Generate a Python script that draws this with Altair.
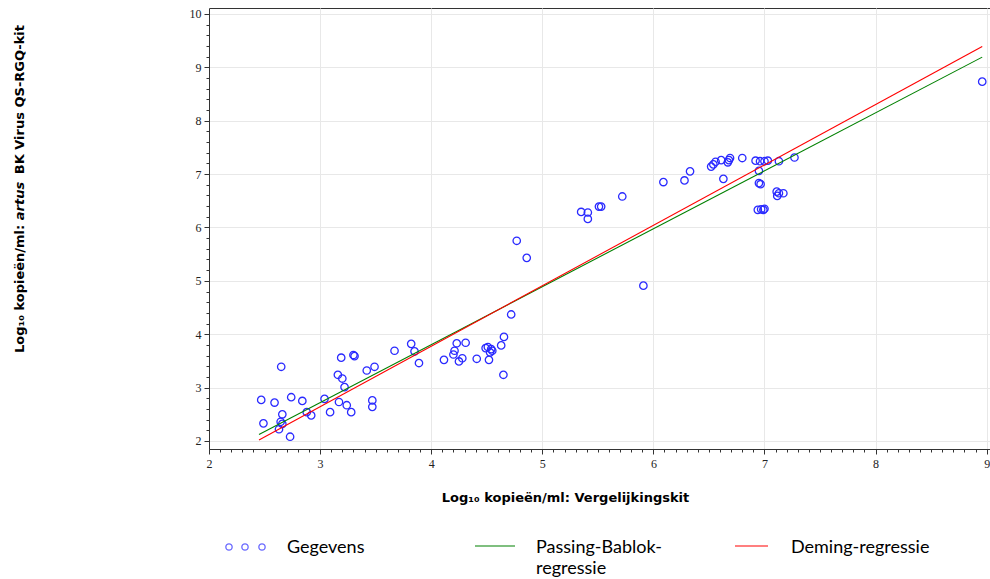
import altair as alt
import pandas as pd
import numpy as np

# ---- data ----
ref_x = [2.47, 2.49, 2.59, 2.65, 2.66, 2.645, 2.66, 2.63, 2.73, 2.74, 2.84, 2.88, 2.92,
         3.04, 3.09, 3.17, 3.24, 3.28, 3.22, 3.16, 3.20, 3.19, 3.30, 3.31, 3.42, 3.49,
         3.47, 3.47, 3.67, 3.82, 3.85, 3.89,
         4.115, 4.21, 4.20, 4.23, 4.25, 4.28, 4.31, 4.41, 4.49, 4.51, 4.54, 4.55, 4.53,
         4.52, 4.63, 4.655, 4.65, 4.72, 4.77, 4.86, 5.91,
         5.35, 5.41, 5.41, 5.51, 5.53, 5.72, 6.09, 6.28, 6.33, 6.52, 6.54, 6.56, 6.61,
         6.63, 6.67, 6.68, 6.69, 6.80, 6.92, 6.96, 7.00, 7.03, 6.95, 6.95, 6.965, 7.13,
         7.27, 7.11, 7.13, 7.17, 7.115, 6.94, 6.97, 7.00, 6.99, 8.96]
test_y = [2.77, 2.33, 2.72, 3.39, 2.50, 2.36, 2.32, 2.22, 2.08, 2.82, 2.75, 2.54, 2.48,
          2.79, 2.54, 2.73, 2.67, 2.54, 3.01, 3.24, 3.17, 3.56, 3.61, 3.59, 3.32, 3.39,
          2.76, 2.64, 3.69, 3.82, 3.68, 3.46,
          3.52, 3.69, 3.62, 3.83, 3.49, 3.55, 3.84, 3.54, 3.74, 3.76, 3.72, 3.69, 3.66,
          3.52, 3.79, 3.95, 3.24, 4.37, 5.75, 5.43, 4.91,
          6.29, 6.28, 6.16, 6.39, 6.39, 6.58, 6.85, 6.88, 7.05, 7.14, 7.18, 7.23, 7.26,
          6.91, 7.22, 7.26, 7.30, 7.30, 7.25, 7.24, 7.24, 7.25, 7.06, 6.83, 6.81, 7.24,
          7.31, 6.67, 6.64, 6.64, 6.59, 6.33, 6.34, 6.35, 6.33, 8.73]

line_x = [2.45, 8.96]
passing_bablok_y = [2.12, 9.19]
deming_y = [2.02, 9.39]

x_ticks = [round(v, 1) for v in np.arange(2.0, 9.01, 0.1)]
y_ticks = [round(v, 1) for v in np.arange(2.0, 10.01, 0.2)]

x_title = "Log₁₀ kopieën/ml: Vergelijkingskit"
# y title in three pieces: regular, italic, regular
y_title_parts = ["Log₁₀ kopieën/ml:", "artus", "BK Virus QS-RGQ-kit"]
legend_labels = ["Gegevens", "Passing-Bablok-\nregressie", "Deming-regressie"]

points = pd.DataFrame({"x": ref_x, "y": test_y})
lines = pd.DataFrame({
    "x": line_x * 2,
    "y": passing_bablok_y + deming_y,
    "method": ["Passing-Bablok"] * 2 + ["Deming"] * 2,
})

major = "abs(datum.value - round(datum.value)) < 0.001"
label_expr = f"{major} ? format(datum.value, 'd') : ''"

TICK_FONT = "Liberation Sans Narrow"
TITLE_FONT = "DejaVu Sans"
LEGEND_FONT = "Lato"

x_scale = alt.Scale(domain=[2, 9.03], nice=False, zero=False)
y_scale = alt.Scale(domain=[1.85, 10.11], nice=False, zero=False)

common_axis = dict(
    labelExpr=label_expr,
    labelOverlap=False,
    labelFlush=False,
    labelFont=TICK_FONT,
    labelFontSize=12,
    labelColor="#222",
    tickColor="#333",
    domainColor="#333",
    tickSize={"condition": {"test": major, "value": 5}, "value": 3},
    gridOpacity={"condition": {"test": major, "value": 1}, "value": 0},
    gridColor="#e8e8e8",
    titleFont=TITLE_FONT,
    titleFontSize=13,
    titleFontWeight="bold",
    titleColor="#000",
)

x_axis = alt.Axis(values=x_ticks, title=x_title, titleX=356, titleY=48,
                  titleBaseline="middle", titleAnchor="middle", labelPadding=4,
                  **common_axis)
y_axis = alt.Axis(values=y_ticks, title=None, labelPadding=3, **common_axis)

pts = alt.Chart(points).mark_point(
    shape="circle", filled=False, color="#2a2aff", size=55, strokeWidth=1.3, opacity=1
).encode(
    x=alt.X("x:Q", scale=x_scale, axis=x_axis),
    y=alt.Y("y:Q", scale=y_scale, axis=y_axis),
)

lns = alt.Chart(lines).mark_line(strokeWidth=1.1).encode(
    x=alt.X("x:Q", scale=x_scale, axis=x_axis),
    y=alt.Y("y:Q", scale=y_scale, axis=y_axis),
    detail="method:N",
    color=alt.Color("method:N",
                    scale=alt.Scale(domain=["Passing-Bablok", "Deming"],
                                    range=["#008000", "#ff0000"]),
                    legend=None),
)

# ---- y-axis title built from three rotated text pieces ----
ytitle_src = pd.DataFrame({"label": y_title_parts})
title_layers = []
for i, (ty, al, style) in enumerate([(345, "left", "normal"),
                                     (193, "center", "italic"),
                                     (17, "right", "normal")]):
    title_layers.append(
        alt.Chart(ytitle_src.iloc[[i]]).mark_text(
            angle=270, align=al, baseline="middle", font=TITLE_FONT, fontSize=13,
            fontWeight="bold", fontStyle=style, color="#000"
        ).encode(x=alt.value(-189), y=alt.value(ty), text="label:N")
    )

# ---- manual legend below the plot ----
leg_src = pd.DataFrame({"label": legend_labels})
LEG_Y = 539
legend_layers = []
for dx in [20, 36, 53]:
    legend_layers.append(
        alt.Chart(leg_src.head(1)).mark_point(
            shape="circle", filled=False, color="#2a2aff", size=40, strokeWidth=1.3
        ).encode(x=alt.value(dx), y=alt.value(LEG_Y))
    )
legend_layers.append(
    alt.Chart(leg_src.head(1)).mark_rule(color="#008000", strokeWidth=1.1)
    .encode(x=alt.value(266), x2=alt.value(306), y=alt.value(LEG_Y - 1))
)
legend_layers.append(
    alt.Chart(leg_src.head(1)).mark_rule(color="#ff0000", strokeWidth=1.1)
    .encode(x=alt.value(526), x2=alt.value(559), y=alt.value(LEG_Y - 1))
)
for i, lx in enumerate([78, 327, 582]):
    legend_layers.append(
        alt.Chart(leg_src.iloc[[i]]).mark_text(
            align="left", baseline="middle", font=LEGEND_FONT, fontSize=18,
            lineBreak="\n", lineHeight=21, color="#000"
        ).encode(x=alt.value(lx), y=alt.value(LEG_Y + 1), text="label:N")
    )

chart = alt.layer(pts, lns, *title_layers, *legend_layers).properties(
    width=781, height=441,
    autosize=alt.AutoSizeParams(type="none"),
    padding={"left": 209, "top": 8, "right": 0, "bottom": 130},
    background="white",
).configure_view(stroke="#333", strokeWidth=1)

chart.save("out.html", embed_options={"renderer": "svg", "actions": False})
